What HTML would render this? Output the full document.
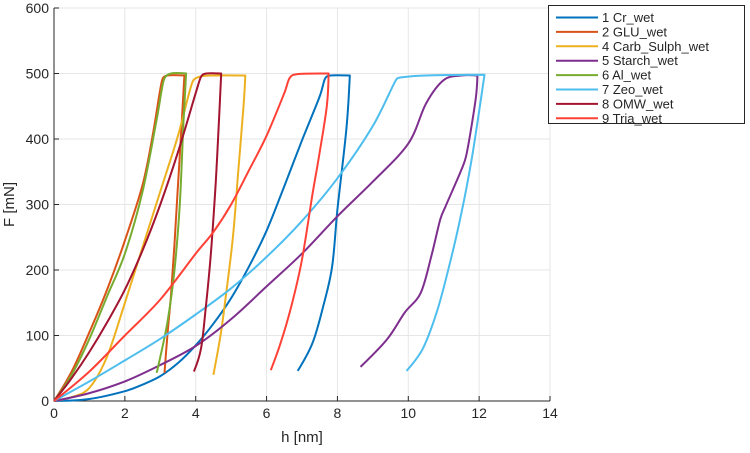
<!DOCTYPE html>
<html><head><meta charset="utf-8"><style>
body{margin:0;background:#fff;font-family:"Liberation Sans",sans-serif}
svg text{font-family:"Liberation Sans",sans-serif;fill:#262626}
</style></head><body>
<svg id="chart" width="750" height="448">
<g id="grid"></g>
<g id="axes"></g>
<g id="series"></g>
<g id="legend"></g>
</svg>
<script>
const xTicks=[0,2,4,6,8,10,12,14];
const yTicks=[0,100,200,300,400,500,600];
const names=["1 Cr_wet","2 GLU_wet","4 Carb_Sulph_wet","5 Starch_wet","6 Al_wet","7 Zeo_wet","8 OMW_wet","9 Tria_wet"];
const colors=["#0072BD","#D95319","#EDB120","#7E2F8E","#77AC30","#4DBEEE","#A2142F","#FF4136"];
const crH=[0,1,2,2.5,3,3.5,4,4.5,5,5.5,6,6.5,7,7.5,7.65,7.8,8.35,8.25,8.0,7.85,7.6,7.3,6.88];
const crF=[0,3,15,25,38,58,85,118,157,205,260,328,398,465,492,497,497,414,292,205,145,89,46];
const gluH=[0,0.5,1,1.5,2,2.5,2.8,3.05,3.2,3.68,3.6,3.5,3.4,3.3,3.2,3.12];
const gluF=[0,45,105,170,245,330,410,490,497,497,420,330,240,160,100,43];
const carbH=[0,0.5,1,1.5,2,2.5,3,3.5,3.9,4.1,4.5,5.4,5.35,5.2,5.05,4.85,4.7,4.5];
const carbF=[0,6,20,68,150,235,320,405,486,495,497,497,450,350,250,160,100,40];
const starchH=[0,1,2,3,4,5,6,7,8,9,10,10.5,11,11.5,11.95,11.9,11.65,11.5,11.05,10.9,10.65,10.35,9.9,9.4,8.65];
const starchF=[0,12,30,55,84,125,175,225,282,335,393,454,490,497,497,460,378,353,297,277,221,165,135,94,52];
const alH=[0,0.5,1,1.5,2,2.5,2.9,3.1,3.3,3.73,3.65,3.55,3.4,3.2,2.9];
const alF=[0,40,95,160,225,320,430,490,500,500,420,300,200,120,43];
const zeoH=[0,1,2,3,4,5,6,7,8,9,9.65,9.8,10.5,12.15,11.8,11.5,11.15,10.8,10.4,9.95];
const zeoF=[0,30,62,95,132,172,220,275,340,420,490,494,497,498,373,287,205,135,79,46];
const omwH=[0,0.5,1,1.5,2,2.5,3,3.5,4,4.15,4.3,4.72,4.65,4.55,4.42,4.28,4.15,3.95];
const omwF=[0,35,75,120,170,230,300,380,470,495,500,500,420,320,220,140,80,45];
const triaH=[0,1,2,3,4,4.5,5,5.5,6,6.5,6.65,6.85,7.75,7.7,7.5,7.3,7.0,6.7,6.4,6.12];
const triaF=[0,45,100,155,225,258,300,352,405,470,493,499,500,450,380,317,216,145,89,47];
const seriesH=[crH,gluH,carbH,starchH,alH,zeoH,omwH,triaH];
const seriesF=[crF,gluF,carbF,starchF,alF,zeoF,omwF,triaF];
const NS="http://www.w3.org/2000/svg";
const X0=54,X1=550,Y0=401,Y1=8;
const sx=h=>X0+(h-0)/(14-0)*(X1-X0);
const sy=f=>Y0-(f-0)/(600-0)*(Y0-Y1);
function mk(tag,parent,attrs){const e=document.createElementNS(NS,tag);for(const k in attrs)e.setAttribute(k,attrs[k]);parent.appendChild(e);return e;}
function smooth(pts){
 const n=pts.length;
 const tan=pts.map((p,i)=>{
  if(i===0||i===n-1) return [0,0];
  const a=[p[0]-pts[i-1][0],p[1]-pts[i-1][1]],b=[pts[i+1][0]-p[0],pts[i+1][1]-p[1]];
  const la=Math.hypot(...a)||1,lb=Math.hypot(...b)||1;
  const cos=(a[0]*b[0]+a[1]*b[1])/(la*lb);
  if(cos<0.7) return [0,0];
  return [(pts[i+1][0]-pts[i-1][0])/6,(pts[i+1][1]-pts[i-1][1])/6];
 });
 let d='M'+pts[0][0].toFixed(1)+','+pts[0][1].toFixed(1);
 for(let i=0;i<n-1;i++){
  const p1=pts[i],p2=pts[i+1];
  const seg=Math.hypot(p2[0]-p1[0],p2[1]-p1[1]);
  const lim=(t)=>{const l=Math.hypot(...t);return l>seg*0.45?[t[0]*seg*0.45/l,t[1]*seg*0.45/l]:t;};
  const t1=lim(tan[i]),t2=lim(tan[i+1]);
  d+='C'+(p1[0]+t1[0]).toFixed(1)+','+(p1[1]+t1[1]).toFixed(1)+' '+(p2[0]-t2[0]).toFixed(1)+','+(p2[1]-t2[1]).toFixed(1)+' '+p2[0].toFixed(1)+','+p2[1].toFixed(1);
 }
 return d;
}
const grid=document.getElementById('grid'),axes=document.getElementById('axes'),ser=document.getElementById('series'),leg=document.getElementById('legend');
xTicks.forEach(t=>{
 const l=mk('line',grid,{x1:sx(t),x2:sx(t),y1:Y1,y2:Y0,stroke:'#e6e6e6','stroke-width':1});
 
 
 const k=mk('line',axes,{x1:sx(t),x2:sx(t),y1:Y0,y2:Y0-5,stroke:'#262626','stroke-width':1});
 
 
 const tx=mk('text',axes,{x:sx(t),y:Y0+17,'text-anchor':'middle','font-size':14});
 tx.textContent=t;
 
 
});
yTicks.forEach(t=>{
 const l=mk('line',grid,{x1:X0,x2:X1,y1:sy(t),y2:sy(t),stroke:'#e6e6e6','stroke-width':1});
 
 
 const k=mk('line',axes,{x1:X0,x2:X0+5,y1:sy(t),y2:sy(t),stroke:'#262626','stroke-width':1});
 
 
 const tx=mk('text',axes,{x:X0-5,y:sy(t)+5,'text-anchor':'end','font-size':14});
 tx.textContent=t;
 
 
});
const ax=mk('path',axes,{d:`M${X0},${Y1}V${Y0}H${X1}`,fill:'none',stroke:'#262626','stroke-width':1});


const xt=mk('text',axes,{x:(X0+X1)/2,y:442,'text-anchor':'middle','font-size':15});
xt.textContent='h [nm]';


const yt=mk('text',axes,{x:0,y:0,'text-anchor':'middle','font-size':15,transform:`translate(14,${(Y0+Y1)/2}) rotate(-90)`});
yt.textContent='F [mN]';


seriesH.forEach((H,i)=>{
 const pts=H.map((h,j)=>[sx(h),sy(seriesF[i][j])]);
 const p=mk('path',ser,{d:smooth(pts),fill:'none',stroke:colors[i],'stroke-width':2,'stroke-linejoin':'round'});
 
 
});
const box=mk('rect',leg,{x:548.5,y:5.5,width:196,height:118,fill:'#fff',stroke:'#262626','stroke-width':1});


names.forEach((n,i)=>{
 const y=17.5+i*14.4;
 const g=mk('g',leg,{});
 
 
 mk('line',g,{x1:556,x2:598,y1:y,y2:y,stroke:colors[i],'stroke-width':2});
 const t=mk('text',g,{x:602,y:y+4.5,'font-size':13});
 t.textContent=n;
});
</script>
</body></html>
